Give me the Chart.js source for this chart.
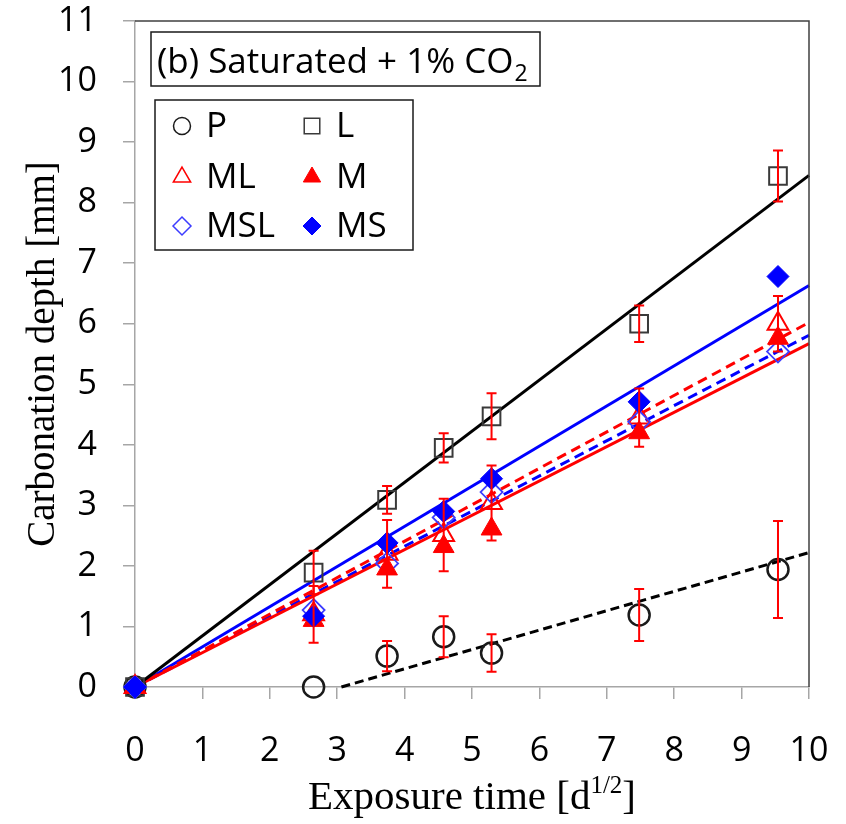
<!DOCTYPE html>
<html>
<head>
<meta charset="utf-8">
<script src="https://cdn.jsdelivr.net/npm/chart.js@4"></script>
<style>
  html, body { margin: 0; padding: 0; background: #fff; }
  #wrap { width: 846px; height: 824px; }
</style>
</head>
<body>
<div id="wrap"><canvas id="chart" width="846" height="824"></canvas></div>
<script>
// exposure time in sqrt(days): 0, 7, 14, 21, 28, 56, 91 days
const times = [0, 2.65, 3.74, 4.58, 5.29, 7.48, 9.54];

const depthP   = [0, 0,    0.51, 0.83, 0.56, 1.19, 1.94];
const depthL   = [0, 1.89, 3.09, 3.95, 4.47, 6.00, 8.44];
const depthML  = [0, 1.20, 2.20, 2.51, 3.04, 4.45, 6.00];
const depthM   = [0, 1.10, 1.95, 2.32, 2.61, 4.20, 5.76];
const depthMSL = [0, 1.27, 2.04, 2.80, 3.22, 4.38, 5.54];
const depthMS  = [0, 1.17, 2.38, 2.90, 3.44, 4.71, 6.78];

// standard deviations (only drawn for P, L and ML)
const errP  = [0, 0,    0.25, 0.34, 0.31, 0.43, 0.80];
const errL  = [0, 0.36, 0.23, 0.24, 0.38, 0.30, 0.42];
const errML = [0, 0.47, 0.56, 0.60, 0.62, 0.48, 0.46];

// linear fits: depth = slope * t + intercept
const seriesNames  = ['P', 'L', 'ML', 'M', 'MSL', 'MS'];
const fitSlope     = [0.32, 0.845, 0.602, 0.567, 0.581, 0.663];
const fitIntercept = [-0.98, 0, 0, 0, 0, 0];

const xMax = 10;
const yMax = 11;

const FONT_SANS = '"Open Sans", "DejaVu Sans", sans-serif';
const FONT_SERIF = '"Liberation Serif", "DejaVu Serif", serif';

function points(values) {
    return times.map((t, i) => ({ x: t, y: values[i] }));
}

function fitLine(idx) {
    const a = fitSlope[idx];
    const b = fitIntercept[idx];
    const start = Math.max(0, -b / a);
    return [{ x: start, y: a * start + b }, { x: xMax, y: a * xMax + b }];
}

const markers = {
    P:   { style: 'circle',   radius: 10.5, border: '#1a1a1a', fill: 'rgba(0,0,0,0)', width: 2.5 },
    L:   { style: 'rect',     radius: 12.5, border: '#3a3a3a', fill: 'rgba(0,0,0,0)', width: 2 },
    ML:  { style: 'triangle', radius: 12,   border: '#ff0000', fill: 'rgba(0,0,0,0)', width: 2 },
    M:   { style: 'triangle', radius: 12,   border: '#ff0000', fill: '#ff0000',       width: 1 },
    MSL: { style: 'rectRot',  radius: 11,   border: '#3c3cff', fill: 'rgba(0,0,0,0)', width: 1.8 },
    MS:  { style: 'rectRot',  radius: 11,   border: '#0000ff', fill: '#0000ff',       width: 1 }
};

const depthBySeries = { P: depthP, L: depthL, ML: depthML, M: depthM, MSL: depthMSL, MS: depthMS };

const lineStyles = {
    P:   { color: '#000000', dash: [9, 5] },
    L:   { color: '#000000', dash: [] },
    ML:  { color: '#ff0000', dash: [10, 6] },
    M:   { color: '#ff0000', dash: [] },
    MSL: { color: '#0000ff', dash: [10, 6] },
    MS:  { color: '#0000ff', dash: [] }
};

const datasets = [];
// markers on top, MS first
['MS', 'M', 'MSL', 'ML', 'L', 'P'].forEach((name, k) => {
    const m = markers[name];
    datasets.push({
        label: name,
        data: points(depthBySeries[name]),
        showLine: false,
        pointStyle: m.style,
        pointRadius: m.radius,
        pointBorderColor: m.border,
        pointBackgroundColor: m.fill,
        pointBorderWidth: m.width,
        order: k,
        clip: false
    });
});
seriesNames.forEach((name, idx) => {
    const s = lineStyles[name];
    datasets.push({
        label: name + ' fit',
        data: fitLine(idx),
        showLine: true,
        borderColor: s.color,
        borderDash: s.dash,
        borderWidth: 3,
        pointRadius: 0,
        order: 10 + idx,
        clip: false
    });
});

const errorBars = [
    { values: depthP, errs: errP },
    { values: depthL, errs: errL },
    { values: depthML, errs: errML }
];

const errorBarPlugin = {
    id: 'errorBars',
    afterDatasetsDraw(chart) {
        const ctx = chart.ctx;
        const xs = chart.scales.x;
        const ys = chart.scales.y;
        ctx.save();
        ctx.strokeStyle = '#ff0000';
        ctx.lineWidth = 2;
        errorBars.forEach(set => {
            times.forEach((t, i) => {
                const e = set.errs[i];
                if (!e) return;
                const px = xs.getPixelForValue(t);
                const top = ys.getPixelForValue(set.values[i] + e);
                const bot = ys.getPixelForValue(set.values[i] - e);
                ctx.beginPath();
                ctx.moveTo(px, top); ctx.lineTo(px, bot);
                ctx.moveTo(px - 5, top); ctx.lineTo(px + 5, top);
                ctx.moveTo(px - 5, bot); ctx.lineTo(px + 5, bot);
                ctx.stroke();
            });
        });
        ctx.restore();
    }
};

function drawRuns(ctx, runs, cx, baseline) {
    let total = 0;
    runs.forEach(r => { ctx.font = r.font; r.w = ctx.measureText(r.text).width; total += r.w; });
    let x = cx - total / 2;
    runs.forEach(r => {
        ctx.font = r.font;
        ctx.fillText(r.text, x, baseline + (r.dy || 0));
        x += r.w;
    });
}

const decorPlugin = {
    id: 'decor',
    afterDraw(chart) {
        const ctx = chart.ctx;
        const area = chart.chartArea;
        ctx.save();

        // top and right frame
        ctx.strokeStyle = '#404040';
        ctx.lineWidth = 1.5;
        ctx.beginPath();
        ctx.moveTo(area.left, area.top);
        ctx.lineTo(area.right, area.top);
        ctx.lineTo(area.right, area.bottom);
        ctx.stroke();

        // panel title box
        ctx.fillStyle = '#fff';
        ctx.fillRect(151, 32, 389, 54);
        ctx.strokeStyle = '#1a1a1a';
        ctx.lineWidth = 1.5;
        ctx.strokeRect(151, 32, 389, 54);
        ctx.fillStyle = '#000';
        ctx.textAlign = 'left';
        ctx.textBaseline = 'alphabetic';
        ctx.font = '35px ' + FONT_SANS;
        const head = '(b) Saturated + 1% CO';
        ctx.fillText(head, 157, 73);
        const hw = ctx.measureText(head).width;
        ctx.font = '23px ' + FONT_SANS;
        ctx.fillText('2', 157 + hw + 1, 81);

        // legend box
        ctx.fillStyle = '#fff';
        ctx.fillRect(155, 100, 258, 150);
        ctx.strokeStyle = '#1a1a1a';
        ctx.strokeRect(155, 100, 258, 150);
        const rows = [['P', 'L'], ['ML', 'M'], ['MSL', 'MS']];
        const rowY = [126, 177, 226];
        const colX = [182, 312];
        ctx.textBaseline = 'middle';
        rows.forEach((row, r) => {
            row.forEach((name, c) => {
                const m = markers[name];
                ctx.strokeStyle = m.border;
                ctx.fillStyle = m.fill;
                ctx.lineWidth = Math.min(m.width, 1.5);
                const rad = m.style === 'rect' ? 11 : m.radius - 2;
                Chart.helpers.drawPoint(ctx, { pointStyle: m.style, radius: rad, borderWidth: ctx.lineWidth }, colX[c], rowY[r]);
                ctx.fillStyle = '#000';
                ctx.font = '35px ' + FONT_SANS;
                ctx.fillText(name, colX[c] + 24, rowY[r] + 1);
            });
        });

        // axis titles
        ctx.fillStyle = '#000';
        ctx.textBaseline = 'alphabetic';
        ctx.textAlign = 'left';
        const cx = (area.left + area.right) / 2;
        drawRuns(ctx, [
            { text: 'Exposure time [d', font: '41px ' + FONT_SERIF },
            { text: '1/2', font: '25px ' + FONT_SERIF, dy: -16 },
            { text: ']', font: '41px ' + FONT_SERIF }
        ], cx, 809);

        ctx.translate(54, (area.top + area.bottom) / 2);
        ctx.rotate(-Math.PI / 2);
        ctx.textAlign = 'center';
        ctx.font = '39px ' + FONT_SERIF;
        ctx.fillText('Carbonation depth [mm]', 0, 0);
        ctx.restore();
    }
};

function noScalePadding(scale) {
    scale.paddingTop = 0;
    scale.paddingRight = 0;
    scale.paddingBottom = 0;
    scale.paddingLeft = 0;
}

new Chart(document.getElementById('chart'), {
    type: 'scatter',
    data: { datasets: datasets },
    options: {
        responsive: false,
        animation: false,
        layout: { padding: { top: 21, right: 37, left: 0, bottom: 0 } },
        plugins: { legend: { display: false }, tooltip: { enabled: false } },
        scales: {
            x: {
                type: 'linear', min: 0, max: xMax,
                afterFit: scale => { scale.height = 137; noScalePadding(scale); },
                ticks: { stepSize: 1, padding: 32, color: '#000', font: { family: FONT_SANS, size: 34 } },
                grid: { drawOnChartArea: false, tickLength: 12, color: '#a6a6a6', lineWidth: 1.5 },
                border: { color: '#a6a6a6', width: 1.5 }
            },
            y: {
                type: 'linear', min: 0, max: yMax,
                afterFit: scale => { scale.width = 135; noScalePadding(scale); },
                ticks: { stepSize: 1, padding: 26, color: '#000', font: { family: FONT_SANS, size: 34 } },
                grid: { drawOnChartArea: false, tickLength: 12, color: '#a6a6a6', lineWidth: 1.5 },
                border: { color: '#a6a6a6', width: 1.5 }
            }
        }
    },
    plugins: [errorBarPlugin, decorPlugin]
});
</script>
</body>
</html>
